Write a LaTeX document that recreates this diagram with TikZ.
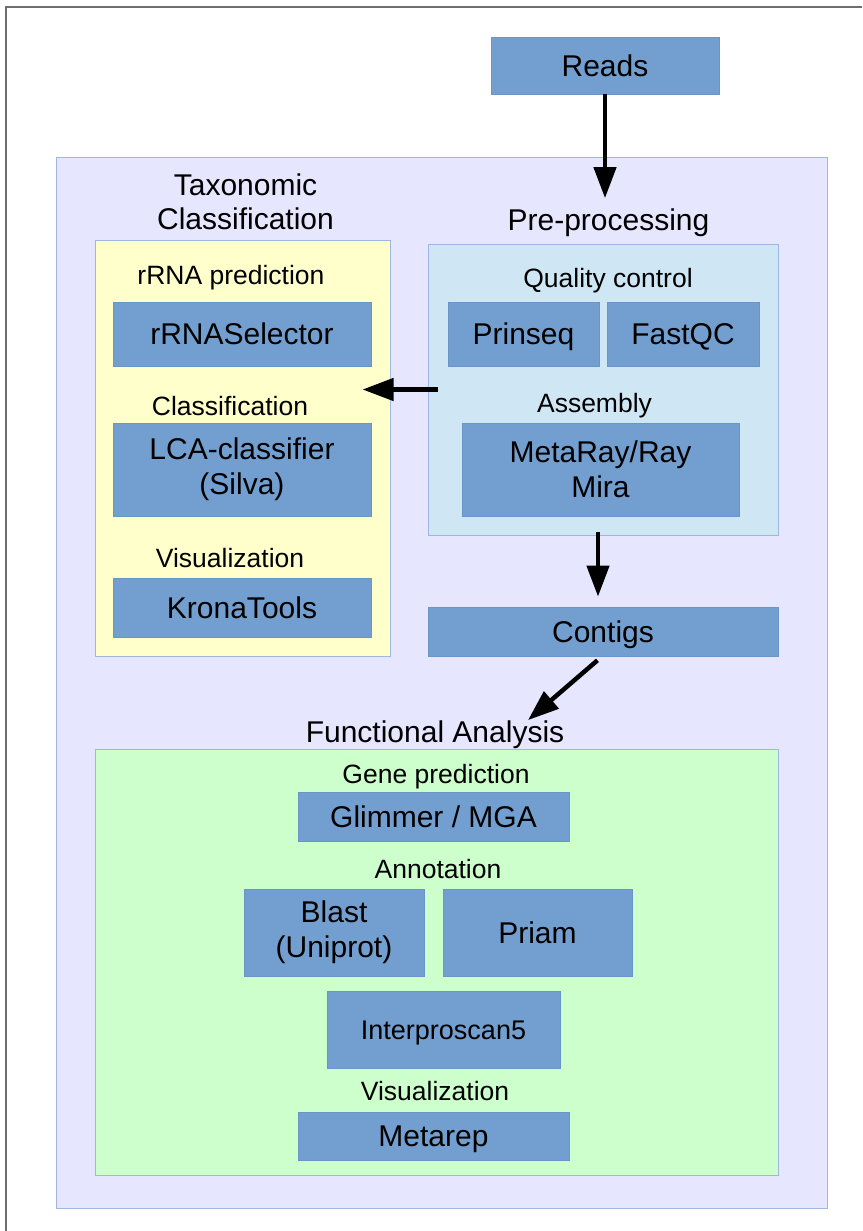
\documentclass[tikz,border=0pt]{standalone}
\usepackage{fontspec}
\setmainfont{Liberation Sans}
\usetikzlibrary{positioning,arrows.meta,calc}
\pgfdeclarelayer{background}
\pgfsetlayers{background,main}
\definecolor{toolblue}{HTML}{729FCF}
\definecolor{toolline}{HTML}{6A95C8}
\definecolor{panelline}{HTML}{9FB6E0}
\definecolor{outerbg}{HTML}{E6E6FF}
\definecolor{taxobg}{HTML}{FFFFCC}
\definecolor{prebg}{HTML}{CFE7F5}
\definecolor{funcbg}{HTML}{CCFFCC}
\definecolor{framegray}{HTML}{6E6E6E}

\begin{document}
\begin{tikzpicture}[x=1pt, y=-1pt,
					every node/.style={on grid, inner sep=0pt},
					tool/.style={fill=toolblue, draw=toolline, line width=0.8pt, font=\fontsize{30}{35}\selectfont, align=center, text height=21.5pt, text depth=0pt},
					tooltwo/.style={fill=toolblue, draw=toolline, line width=0.8pt, font=\fontsize{30}{35}\selectfont, align=center},
					sub/.style={font=\fontsize{26.5}{30}\selectfont, text height=19pt, text depth=0pt},
					head/.style={font=\fontsize{30}{34}\selectfont, align=center},
					panel/.style={draw=panelline, line width=1pt},
					>={Triangle[length=31pt, width=22pt]}]
	\useasboundingbox (0,0) rectangle (862,1231);
	\draw[framegray, line width=1.3pt] (862,7) -| (6,1231);

	\begin{pgfonlayer}{background}
		\node[panel, fill=outerbg, minimum width=771pt, minimum height=1051pt] (outer) at (441.5,682.5) {};
		\node[panel, fill=taxobg, minimum width=295pt, minimum height=416pt] (taxo) at (242.5,448) {};
		\node[panel, fill=prebg, minimum width=350pt, minimum height=291pt] (prep) at (603,389.5) {};
		\node[panel, fill=funcbg, minimum width=683pt, minimum height=426pt] (func) at (436.5,962) {};
	\end{pgfonlayer}

	\node[tool, minimum width=228pt, minimum height=57pt] (reads) at (605,65.5) {Reads};

	\node[head, above=10pt of taxo.north, anchor=south, xshift=3pt] (taxohead) {Taxonomic\\Classification};
	\node[head, above=7pt of prep.north, anchor=south, xshift=5.5pt] (prehead) {Pre-processing};
	\node[head, above=0pt of func.north, anchor=south, xshift=-1.5pt] (funchead) {Functional Analysis};

	\node[sub] (rrnalab) at (231,274.5) {rRNA prediction};
	\node[tool, minimum width=258pt, minimum height=64pt, below right=59.5pt and 11pt of rrnalab] (rrnasel) {rRNASelector};
	\node[sub, below left=71.5pt and 12pt of rrnasel] (classlab) {Classification};
	\node[tooltwo, minimum width=258pt, minimum height=93pt, below right=64pt and 12pt of classlab] (lca) {LCA-classifier\\(Silva)};
	\node[sub, below left=88.5pt and 12pt of lca] (vislab) {Visualization};
	\node[tool, minimum width=258pt, minimum height=59pt, below right=49.5pt and 12pt of vislab] (krona) {KronaTools};

	\node[sub] (qclab) at (608,277.5) {Quality control};
	\node[tool, minimum width=151pt, minimum height=64pt, below left=56.5pt and 84.5pt of qclab] (prinseq) {Prinseq};
	\node[tool, minimum width=152pt, minimum height=64pt, right=159.5pt of prinseq] (fastqc) {FastQC};
	\node[sub, below right=68.5pt and 71pt of prinseq] (asmlab) {Assembly};
	\node[tooltwo, minimum width=277pt, minimum height=93pt, below right=67pt and 6pt of asmlab] (metaray) {MetaRay/Ray\\Mira};
	\node[tool, minimum width=350pt, minimum height=49pt, below right=162pt and 2.5pt of metaray] (contigs) {Contigs};

	\node[sub] (genelab) at (436,773.5) {Gene prediction};
	\node[tool, minimum width=271pt, minimum height=49pt, below left=43pt and 2.5pt of genelab] (glimmer) {Glimmer / MGA};
	\node[sub, below right=52pt and 4.5pt of glimmer] (annlab) {Annotation};
	\node[tooltwo, minimum width=180pt, minimum height=87pt, below left=64pt and 104pt of annlab] (blast) {Blast\\(Uniprot)};
	\node[tool, minimum width=189pt, minimum height=87pt, right=203.5pt of blast] (priam) {Priam};
	\node[tool, minimum width=233pt, minimum height=77pt, below right=97pt and 109.5pt of blast, font=\fontsize{27}{31}\selectfont, text height=19.3pt] (interpro) {Interproscan5};
	\node[sub, below left=61pt and 8.5pt of interpro] (vistwolab) {Visualization};
	\node[tool, minimum width=271pt, minimum height=48pt, below left=45.5pt and 1.5pt of vistwolab] (metarep) {Metarep};

	\draw[->, line width=4.5pt, shorten >=10pt] (reads.south) -- (reads.south |- prehead.north);
	\draw[->, line width=4.5pt, shorten <=-10pt, shorten >=-28pt] (prep.west) -- (prep.west -| taxo.east);
	\draw[->, line width=4.5pt, shorten <=-4pt, shorten >=10pt] ([xshift=-5pt]prep.south) -- ([xshift=-5pt]contigs.north);
	\draw[->, line width=4.5pt, shorten <=6pt] ([xshift=-1pt]contigs.south) -- ([xshift=93pt]funchead.north);
\end{tikzpicture}
\end{document}
